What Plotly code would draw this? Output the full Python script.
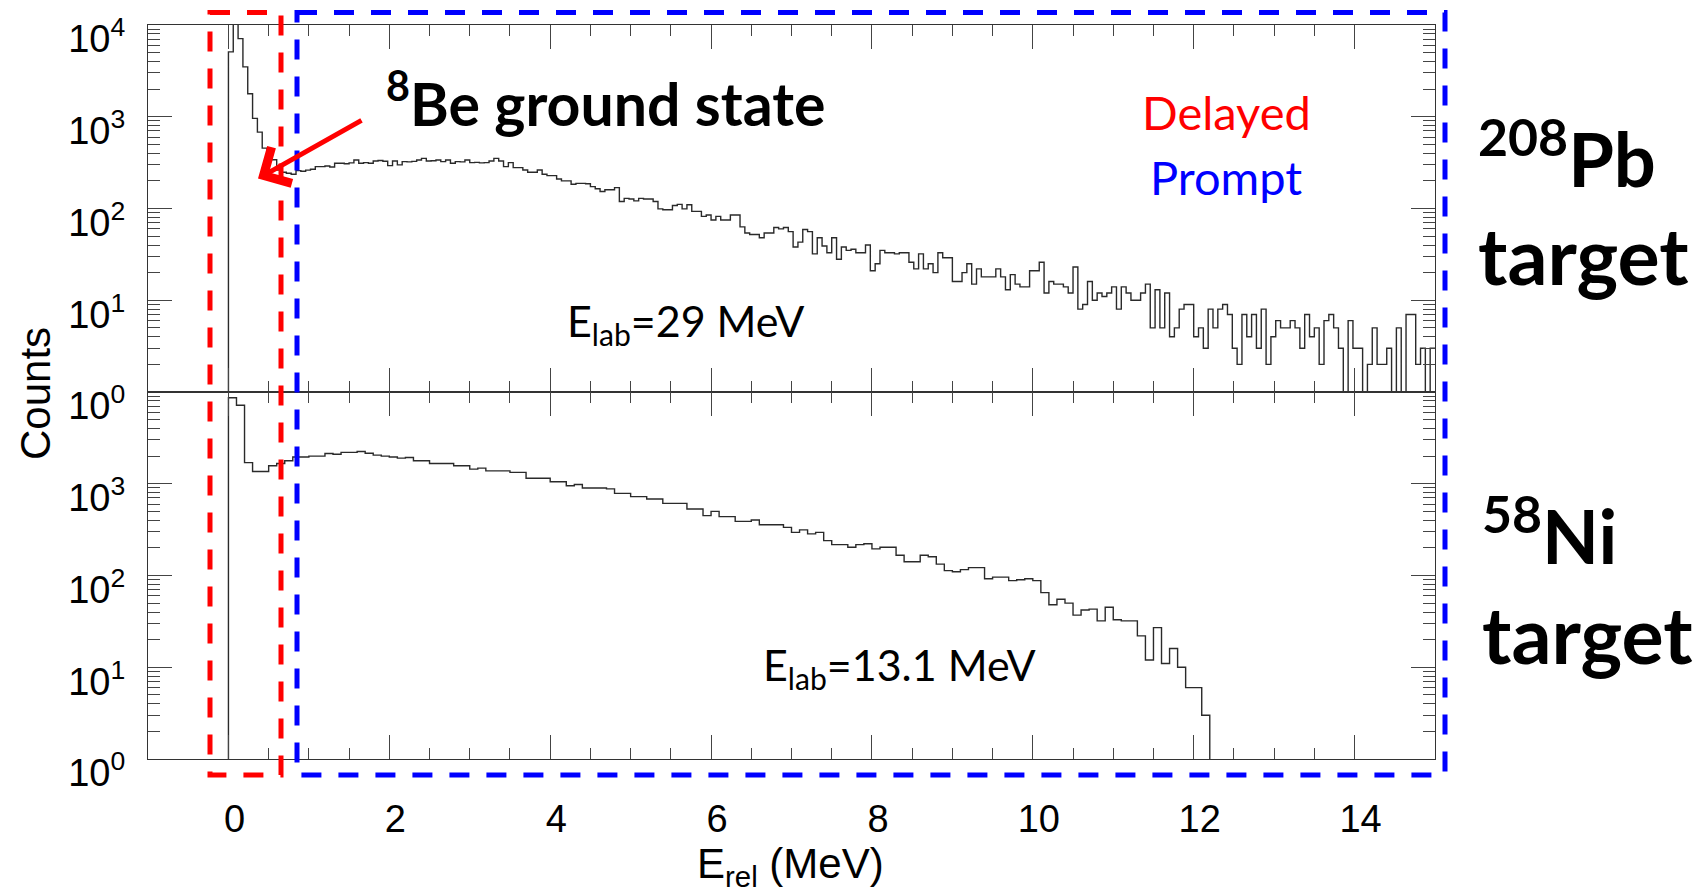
import numpy as np
import plotly.graph_objects as go

# ---------------- data ----------------
# 208Pb target histogram: 250 bins of 0.06 MeV from 0 to 15 MeV
top_bin_width = 0.06
top_counts = [
    5090, 12000, 7100, 3500, 1780, 960, 680, 455, 355, 340,
    263, 248, 242, 236, 259, 255, 262, 268, 286, 286,
    290, 283, 311, 311, 308, 314, 338, 311, 316, 311,
    330, 333, 327, 293, 330, 299, 324, 322, 326, 338,
    352, 330, 332, 338, 324, 338, 311, 324, 322, 338,
    316, 318, 314, 316, 330, 352, 330, 286, 316, 279,
    279, 263, 248, 248, 263, 236, 228, 228, 210, 200,
    200, 184, 188, 188, 186, 173, 164, 153, 160, 160,
    169, 119, 129, 127, 121, 129, 127, 127, 119, 99,
    97, 97, 108, 111, 99, 110, 93, 93, 82, 85,
    75, 82, 75, 75, 85, 85, 63, 54, 52, 52,
    48, 54, 54, 62, 60, 62, 56, 38, 43, 59,
    56, 32, 48, 39, 33, 48, 28, 38, 35, 36,
    33, 33, 40, 21, 25, 35, 33, 33, 32, 33,
    33, 26, 22, 32, 22, 25, 20, 33, 29, 29,
    16, 16, 20, 25, 15, 22, 18, 18, 18, 22,
    18, 13, 19, 15, 14, 14, 21, 21, 26, 12,
    16, 15, 15, 14, 12, 23, 8, 9, 16, 10,
    12, 11, 12, 14, 8, 14, 12, 10, 10, 12,
    15, 5, 13, 5, 12, 4, 5, 8, 9, 9,
    4, 5, 3, 8, 5, 8, 9, 7, 3, 2,
    7, 4, 7, 3, 8, 2, 4, 6, 5, 5,
    6, 5, 3, 7, 4, 5, 2, 6, 7, 5,
    3, 0, 6, 3, 3, 0, 2, 5, 2, 2,
    3, 0, 5, 0, 7, 7, 2, 3, 0, 3,
]

# 58Ni target histogram: 150 bins of 0.1 MeV from 0 to 15 MeV
bottom_bin_width = 0.1
bottom_counts = [
    8670, 7170, 1700, 1360, 1360, 1570, 1660, 1780, 1960, 1960,
    2000, 2000, 2140, 2100, 2200, 2200, 2250, 2150, 2050, 2000,
    1960, 1900, 1930, 1780, 1780, 1660, 1660, 1660, 1570, 1570,
    1445, 1480, 1380, 1380, 1380, 1330, 1330, 1150, 1150, 1150,
    1050, 1050, 950, 983, 900, 900, 900, 880, 785, 785,
    723, 723, 683, 683, 611, 611, 611, 531, 531, 449,
    500, 438, 438, 389, 389, 403, 358, 358, 358, 335,
    295, 314, 284, 295, 240, 217, 217, 203, 217, 222,
    195, 203, 203, 166, 141, 141, 166, 160, 133, 113,
    110, 116, 122, 122, 92, 96, 96, 88, 90, 92,
    88, 65, 48, 55, 50, 37, 42, 43, 32, 45,
    33, 32, 32, 22, 12, 27, 11, 16, 10, 6,
    6, 3, 0, 0, 0, 0, 0, 0, 0, 0,
    0, 0, 0, 0, 0, 0, 0, 0, 0, 0,
    0, 0, 0, 0, 0, 0, 0, 0, 0, 0,
]

x_range = [-1, 15]
x_major = [0, 2, 4, 6, 8, 10, 12, 14]
x_tick_text = ["0", "2", "4", "6", "8", "10", "12", "14"]
y_decades = [1, 10, 100, 1000, 10000]
top_y_text = ["10<sup>0</sup>", "10<sup>1</sup>", "10<sup>2</sup>", "10<sup>3</sup>", "10<sup>4</sup>"]
bottom_y_text = ["10<sup>0</sup>", "10<sup>1</sup>", "10<sup>2</sup>", "10<sup>3</sup>", ""]

# ---------------- geometry / style ----------------
W, H = 1708, 895
L, R, T, B = 148, 1435, 23, 759
FLOOR = 0.1  # empty bins fall below the axis (clipped), as in ROOT

x_minor = [v / 2 for v in range(1, 28) if v % 4 != 0]
y_minor = [m * d for d in [1, 10, 100, 1000] for m in range(2, 10)]


def px(x):
    return (x - L) / (R - L)


def py(y):
    return (B - y) / (B - T)


def step_xy(counts, width):
    c = np.array(counts, dtype=float)
    c = np.where(c > 0, c, FLOOR)
    edges = np.arange(len(c) + 1) * width
    xs = np.concatenate([[0.0], edges])
    ys = np.concatenate([[FLOOR], c, [c[-1]]])
    return xs, ys


tx, ty = step_xy(top_counts, top_bin_width)
bx, by = step_xy(bottom_counts, bottom_bin_width)

line_style = dict(color="#2a2a2a", width=1.4, shape="hv")

fig = go.Figure()
fig.add_trace(go.Scatter(x=tx, y=ty, mode="lines", line=line_style,
                         xaxis="x", yaxis="y", showlegend=False, hoverinfo="skip"))
fig.add_trace(go.Scatter(x=bx, y=by, mode="lines", line=line_style,
                         xaxis="x2", yaxis="y2", showlegend=False, hoverinfo="skip"))

tick_font = dict(family="Liberation Sans, Arial, sans-serif", size=38, color="black")
axis_common = dict(showline=True, linecolor="#333", linewidth=1.2, mirror="ticks",
                   ticks="inside", tickcolor="#444", tickwidth=1.3, showgrid=False,
                   zeroline=False, tickfont=tick_font, ticklabeloverflow="allow")

x_common = dict(axis_common, range=x_range, tickmode="array", tickvals=x_major,
                ticktext=x_tick_text, ticklen=24,
                minor=dict(tickmode="array", tickvals=x_minor, ticks="inside",
                           ticklen=11, tickcolor="#444", tickwidth=1.3, showgrid=False))

y_common = dict(axis_common, type="log", range=[0, 4], tickmode="array",
                tickvals=y_decades, ticklen=24, ticklabelshift=14, ticklabelstandoff=14,
                minor=dict(tickmode="array", tickvals=y_minor, ticks="inside",
                           ticklen=12, tickcolor="#444", tickwidth=1.3, showgrid=False))

fig.update_layout(
    width=W, height=H, autosize=False,
    margin=dict(l=L, r=W - R, t=T, b=H - B),
    paper_bgcolor="white", plot_bgcolor="white",
    xaxis=dict(x_common, domain=[0, 1], anchor="y", showticklabels=False),
    yaxis=dict(y_common, domain=[0.5, 1], anchor="x", ticktext=top_y_text),
    xaxis2=dict(x_common, domain=[0, 1], anchor="y2", matches="x",
                ticklabelshift=6, ticklabelstandoff=26),
    yaxis2=dict(y_common, domain=[0, 0.5], anchor="x2", ticktext=bottom_y_text),
)

lato = "Lato, Carlito, sans-serif"
ann = []


def text(t, x, y, size, color="black", xanchor="left", yanchor="bottom", family=lato, angle=0):
    ann.append(dict(text=t, x=px(x), y=py(y), xref="paper", yref="paper",
                    xanchor=xanchor, yanchor=yanchor, showarrow=False, textangle=angle,
                    font=dict(family=family, size=size, color=color)))


text("<b><sup>8</sup>Be ground state</b>", 384, 139, 59)
text("Delayed", 1226, 140, 47, color="#ff0000", xanchor="center")
text("Prompt", 1226, 205, 47, color="#0000ff", xanchor="center")
text("<b><sup>208</sup>Pb</b>", 1476, 203, 74)
text("<b>target</b>", 1476, 303, 79)
text("<b><sup>58</sup>Ni</b>", 1480, 582, 74)
text("<b>target</b>", 1480, 683, 79)
text("E<sub>lab</sub>=29 MeV", 565, 353, 43)
text("E<sub>lab</sub>=13.1 MeV", 761, 698, 43)
text("Counts", 36, 393, 42, family="Liberation Sans, Arial, sans-serif",
     xanchor="center", yanchor="middle", angle=-90)
text("E<sub>rel</sub> (MeV)", 790, 895, 42, family="Liberation Sans, Arial, sans-serif",
     xanchor="center")

# red arrow pointing at the 8Be ground-state peak
ann.append(dict(text="", x=px(258), y=py(177), xref="paper", yref="paper",
                ax=363 - 258, ay=118 - 177, axref="pixel", ayref="pixel",
                showarrow=True, arrowhead=4, arrowsize=1.6, arrowwidth=5,
                arrowcolor="#ff0000"))
fig.update_layout(annotations=ann)

# dashed windows: delayed (red) and prompt (blue)
dash = "20px,17px"
fig.add_shape(type="rect", xref="paper", yref="paper", layer="above",
              x0=px(210), x1=px(281), y0=py(10.5), y1=py(775),
              line=dict(color="#ff0000", width=5, dash=dash))
fig.add_shape(type="rect", xref="paper", yref="paper", layer="above",
              x0=px(297), x1=px(1445), y0=py(10.5), y1=py(775),
              line=dict(color="#0000ff", width=5, dash=dash))

fig.write_html("out.html", config={"displayModeBar": False},
               post_script="document.body.style.margin='0';"
                           "document.body.style.overflow='hidden';")
